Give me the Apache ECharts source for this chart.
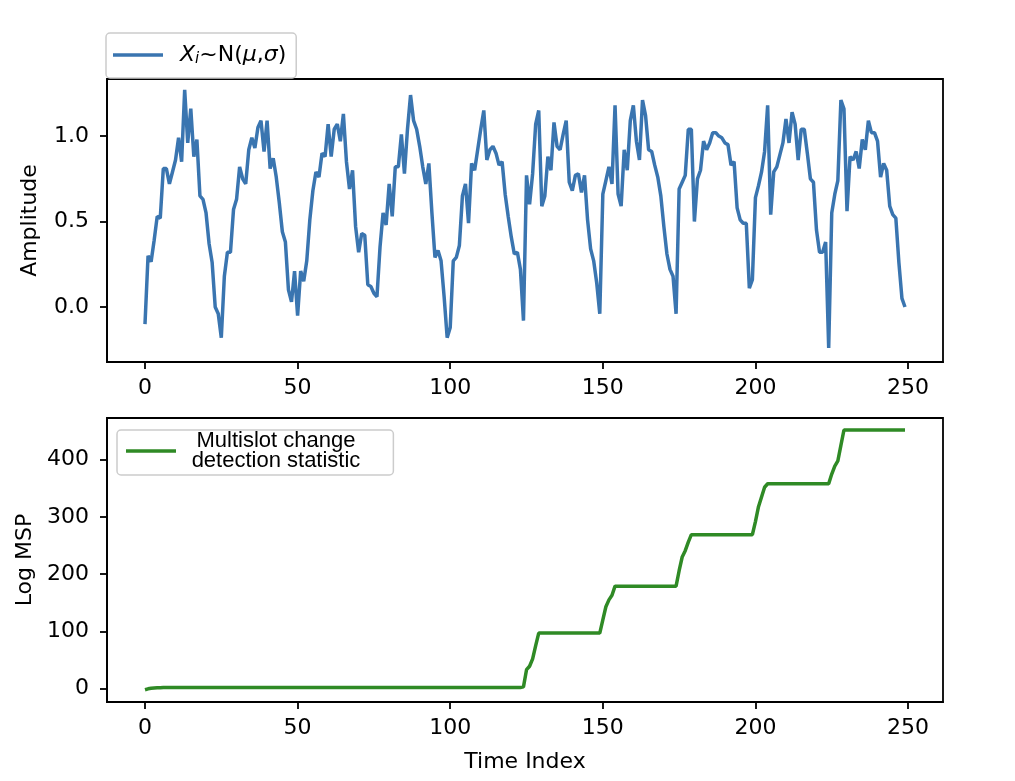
<!DOCTYPE html>
<html><head><meta charset="utf-8">
<script src="https://cdn.jsdelivr.net/npm/echarts@6/dist/echarts.min.js"></script>
<style>html,body{margin:0;padding:0;background:#fff}#c{width:1015px;height:781px}</style>
</head><body><div id="c"></div>
<script>
// Amplitude samples X_i, time index 0..249
const amplitude = [
 -0.10, 0.30, 0.265, 0.39, 0.53, 0.52, 0.81, 0.81, 0.72, 0.79, 0.86, 0.99, 0.85, 1.27, 0.96, 1.16, 0.88, 0.98, 0.65, 0.63, 0.55, 0.37, 0.26, 0.00, -0.04,
 -0.18, 0.18, 0.32, 0.32, 0.57, 0.63, 0.82, 0.75, 0.72, 0.92, 0.99, 0.93, 1.05, 1.09, 0.91, 1.09, 0.81, 0.87, 0.76, 0.61, 0.44, 0.38, 0.10, 0.03, 0.21,
 -0.05, 0.21, 0.15, 0.27, 0.51, 0.68, 0.79, 0.76, 0.90, 0.88, 1.07, 0.88, 1.04, 1.07, 0.97, 1.13, 0.85, 0.69, 0.80, 0.47, 0.32, 0.43, 0.42, 0.13, 0.12,
 0.08, 0.06, 0.35, 0.55, 0.48, 0.72, 0.53, 0.82, 0.82, 1.01, 0.78, 1.04, 1.24, 1.09, 1.04, 0.94, 0.82, 0.72, 0.84, 0.55, 0.29, 0.33, 0.27, 0.06, -0.18,
 -0.12, 0.27, 0.29, 0.36, 0.65, 0.72, 0.49, 0.84, 0.80, 0.92, 1.04, 1.15, 0.86, 0.92, 0.94, 0.90, 0.83, 0.85, 0.66, 0.53, 0.41, 0.31, 0.32, 0.22, -0.08,
 0.77, 0.60, 0.78, 1.07, 1.15, 0.59, 0.65, 0.88, 0.80, 1.08, 0.94, 0.92, 1.01, 1.09, 0.73, 0.68, 0.77, 0.78, 0.67, 0.77, 0.51, 0.34, 0.27, 0.14, -0.04,
 0.66, 0.74, 0.82, 0.72, 1.18, 0.66, 0.59, 0.92, 0.80, 1.09, 1.18, 0.97, 0.86, 1.21, 1.12, 0.92, 0.91, 0.83, 0.76, 0.65, 0.47, 0.31, 0.22, 0.18, -0.04,
 0.69, 0.73, 0.77, 1.04, 1.04, 0.50, 0.75, 0.80, 0.97, 0.92, 0.96, 1.02, 1.02, 1.00, 0.99, 0.96, 0.95, 0.83, 0.85, 0.58, 0.51, 0.49, 0.49, 0.11, 0.16,
 0.64, 0.71, 0.79, 0.91, 1.18, 0.54, 0.79, 0.82, 0.89, 0.96, 1.10, 0.96, 1.14, 1.07, 0.86, 1.04, 1.04, 0.90, 0.75, 0.73, 0.45, 0.32, 0.32, 0.38, -0.24,
 0.55, 0.66, 0.74, 1.21, 1.16, 0.56, 0.88, 0.86, 0.91, 0.81, 0.98, 0.92, 1.09, 1.02, 1.02, 0.97, 0.76, 0.84, 0.80, 0.59, 0.54, 0.52, 0.26, 0.05, 0.00
];
// Log MSP (multislot change detection statistic), time index 0..249
const logMSP = [
 -2, -0.5, 0.5, 1, 1.5, 1.5, 2, 2, 2, 2, 2, 2, 2, 2, 2, 2, 2, 2, 2, 2, 2, 2, 2, 2, 2,
 2, 2, 2, 2, 2, 2, 2, 2, 2, 2, 2, 2, 2, 2, 2, 2, 2, 2, 2, 2, 2, 2, 2, 2, 2,
 2, 2, 2, 2, 2, 2, 2, 2, 2, 2, 2, 2, 2, 2, 2, 2, 2, 2, 2, 2, 2, 2, 2, 2, 2,
 2, 2, 2, 2, 2, 2, 2, 2, 2, 2, 2, 2, 2, 2, 2, 2, 2, 2, 2, 2, 2, 2, 2, 2, 2,
 2, 2, 2, 2, 2, 2, 2, 2, 2, 2, 2, 2, 2, 2, 2, 2, 2, 2, 2, 2, 2, 2, 2, 2, 3,
 33, 39, 52, 75, 97, 97, 97, 97, 97, 97, 97, 97, 97, 97, 97, 97, 97, 97, 97, 97, 97, 97, 97, 97, 97,
 120, 143, 155, 163, 179, 179, 179, 179, 179, 179, 179, 179, 179, 179, 179, 179, 179, 179, 179, 179, 179, 179, 179, 179, 179,
 206, 230, 241, 256, 269, 269, 269, 269, 269, 269, 269, 269, 269, 269, 269, 269, 269, 269, 269, 269, 269, 269, 269, 269, 269,
 292, 318, 335, 352, 358, 358, 358, 358, 358, 358, 358, 358, 358, 358, 358, 358, 358, 358, 358, 358, 358, 358, 358, 358, 358,
 375, 389, 398, 425, 452, 452, 452, 452, 452, 452, 452, 452, 452, 452, 452, 452, 452, 452, 452, 452, 452, 452, 452, 452, 452
];
const xTicks = [0, 50, 100, 150, 200, 250];
const ampTicks = [0, 0.5, 1.0];
const mspTicks = [0, 100, 200, 300, 400];
const ampName = 'Xi~N(μ,σ)';
const mspName = 'Multislot change detection statistic';

const font = 'DejaVu Sans';
const lab = {fontFamily: font, fontSize: 22, color: '#000'};
function xAxisCfg(gi, name) {
  return {
    type: 'value', gridIndex: gi, min: -12.45, max: 261.45,
    name: name, nameLocation: 'middle', nameGap: 49, nameTextStyle: lab,
    axisLine: {show: true, onZero: false, lineStyle: {color: '#000', width: 1.8}},
    axisTick: {show: true, length: 7, lineStyle: {color: '#000', width: 1.8}, customValues: xTicks},
    axisLabel: Object.assign({margin: 15, customValues: xTicks}, lab),
    splitLine: {show: false}
  };
}
function yAxisCfg(gi, name, min, max, ticks, fmt) {
  return {
    type: 'value', gridIndex: gi, min: min, max: max,
    name: name, nameLocation: 'middle', nameGap: 66, nameTextStyle: lab,
    axisLine: {show: true, onZero: false, lineStyle: {color: '#000', width: 1.8}},
    axisTick: {show: true, length: 7, lineStyle: {color: '#000', width: 1.8}, customValues: ticks},
    axisLabel: Object.assign({margin: 18, customValues: ticks, formatter: fmt}, lab),
    splitLine: {show: false}
  };
}
const chart = echarts.init(document.getElementById('c'), null, {renderer: 'canvas'});
chart.setOption({
  animation: false,
  backgroundColor: '#fff',
  grid: [
    {left: 107, top: 79, width: 836, height: 283, show: true, borderColor: '#000', borderWidth: 1.8, containLabel: false},
    {left: 107, top: 418, width: 836, height: 284, show: true, borderColor: '#000', borderWidth: 1.8, containLabel: false}
  ],
  xAxis: [xAxisCfg(0, ''), xAxisCfg(1, 'Time Index')],
  yAxis: [
    yAxisCfg(0, 'Amplitude', -0.322, 1.334, ampTicks, v => v.toFixed(1)),
    yAxisCfg(1, 'Log MSP', -23.5, 473, mspTicks, v => String(Math.round(v)))
  ],
  legend: [
    {
      data: [ampName], left: 106, top: 33, padding: [11, 10, 11, 7],
      icon: 'rect', itemWidth: 50, itemHeight: 3.4,
      backgroundColor: 'rgba(255,255,255,0.8)', borderColor: '#cccccc', borderWidth: 1.5, borderRadius: 4,
      formatter: () => '{it|X}{sub|i}~N({it|μ},{it|σ})',
      textStyle: {
        fontFamily: font, fontSize: 22, color: '#000', padding: [0, 0, 0, 12],
        rich: {
          it: {fontStyle: 'italic', fontFamily: font, fontSize: 22, color: '#000'},
          sub: {fontStyle: 'italic', fontFamily: font, fontSize: 15, color: '#000', padding: [9, 0, 0, 0]}
        }
      }
    },
    {
      data: [mspName], left: 117, top: 430, padding: [0, 33, 3, 9],
      icon: 'rect', itemWidth: 50, itemHeight: 3.4,
      backgroundColor: 'rgba(255,255,255,0.8)', borderColor: '#cccccc', borderWidth: 1.5, borderRadius: 4,
      formatter: () => '{c|Multislot change}\n{c|detection statistic}',
      textStyle: {
        fontFamily: 'Liberation Sans', fontSize: 22, lineHeight: 20, color: '#000', padding: [0, 0, 0, 11],
        rich: {
          c: {width: 168, align: 'center', fontFamily: 'Liberation Sans', fontSize: 22, lineHeight: 20, color: '#000'}
        }
      }
    }
  ],
  series: [
    {
      name: ampName, type: 'line', xAxisIndex: 0, yAxisIndex: 0,
      data: amplitude.map((v, i) => [i, v]),
      symbol: 'none', showSymbol: false,
      lineStyle: {color: '#3a75b0', width: 3.5}, itemStyle: {color: '#3a75b0'}
    },
    {
      name: mspName, type: 'line', xAxisIndex: 1, yAxisIndex: 1,
      data: logMSP.map((v, i) => [i, v]),
      symbol: 'none', showSymbol: false,
      lineStyle: {color: '#2f8a25', width: 3.5}, itemStyle: {color: '#2f8a25'}
    }
  ]
});
</script>
</body></html>
